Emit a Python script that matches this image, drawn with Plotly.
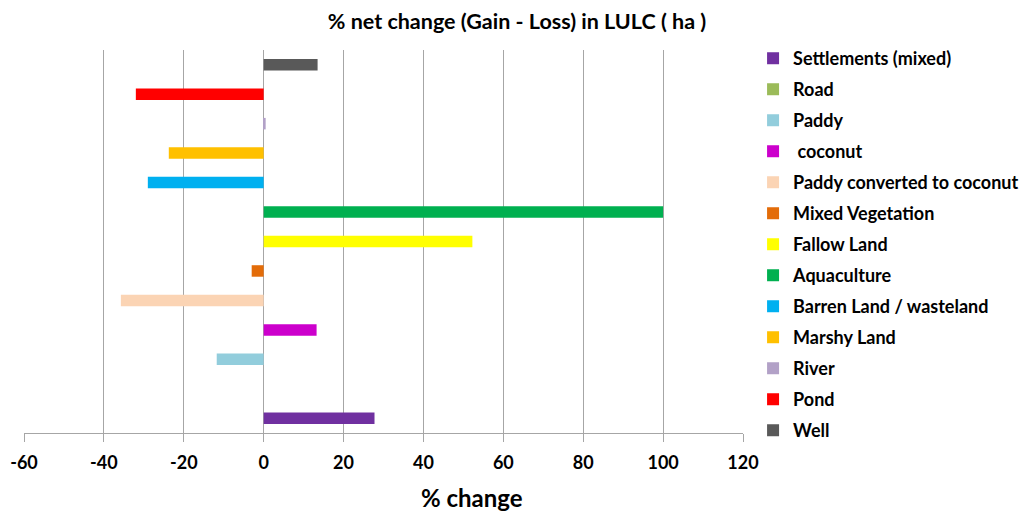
import plotly.graph_objects as go

categories = ["Settlements (mixed)", "Road", "Paddy", " coconut", "Paddy converted to coconut",
              "Mixed Vegetation", "Fallow Land", "Aquaculture", "Barren Land / wasteland",
              "Marshy Land", "River", "Pond", "Well"]
values = [27.75, 0, -11.75, 13.25, -35.75, -3, 52.25, 100, -29, -23.75, 0.5, -32, 13.5]
colors = ["#7030A0", "#9BBB59", "#92CDDC", "#CC00CC", "#FBD4B4", "#E36C09", "#FFFF00",
          "#00B050", "#00B0F0", "#FFC000", "#B2A1C7", "#FF0000", "#595959"]
x_ticks = [-60, -40, -20, 0, 20, 40, 60, 80, 100, 120]

FONT = "Lato, Carlito, Calibri, sans-serif"

fig = go.Figure()
for i, (c, v, col) in enumerate(zip(categories, values, colors)):
    fig.add_trace(go.Bar(
        y=[c], x=[v], orientation="h", name=f"<b>{c}</b>", width=0.39,
        marker=dict(color=col, line=dict(width=0)),
        legendgroup=f"g{i}",
    ))

fig.update_layout(
    width=1022, height=504,
    margin=dict(l=16, r=287, t=42, b=79, autoexpand=False),
    paper_bgcolor="white", plot_bgcolor="white",
    barmode="overlay",
    font=dict(family=FONT, color="black"),
    title=dict(text="<b>% net change (Gain - Loss) in LULC ( ha )</b>",
               x=(517 - 8) / 1022, xanchor="center", y=1 - (21 - 8) / 504, yanchor="middle",
               font=dict(size=21.5, family=FONT, color="black")),
    legend=dict(x=1.014, xanchor="left", y=1.026, yanchor="top",
                traceorder="grouped", tracegroupgap=4.6, maxheight=1000,
                font=dict(size=18, family=FONT, color="black"),
                itemwidth=30, bgcolor="rgba(0,0,0,0)"),
    showlegend=True,
    annotations=[dict(text="<b>% change</b>", xref="paper", yref="paper",
                      x=(472 - 24) / 719, y=-(497 - 433) / 383, xanchor="center", yanchor="middle",
                      showarrow=False, font=dict(size=24, family=FONT, color="black"))],
)
fig.update_xaxes(
    range=[-60, 120], tickvals=x_ticks, ticktext=[f"<b>{t}</b>" for t in x_ticks],
    automargin=False,
    showgrid=True, gridcolor="#A6A6A6", gridwidth=1,
    zeroline=True, zerolinecolor="#A6A6A6", zerolinewidth=1,
    showline=True, linecolor="#A6A6A6", linewidth=1,
    ticks="outside", ticklen=8, tickcolor="#A6A6A6", ticklabelstandoff=5,
    tickfont=dict(size=18, family=FONT, color="black"),
)
fig.update_yaxes(
    type="category", categoryorder="array", categoryarray=categories,
    range=[-0.5, 12.5], showticklabels=False, showgrid=False, zeroline=False,
    showline=False, ticks="", automargin=False,
)

fig.write_html("out.html")
